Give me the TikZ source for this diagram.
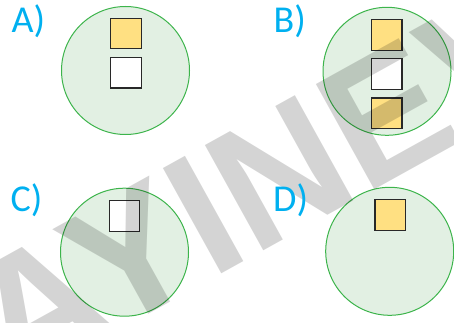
\documentclass[tikz,border=0pt]{standalone}
\usepackage{fontspec}
\setmainfont{Carlito}
\newfontfamily\markfont{Liberation Sans}
\usetikzlibrary{positioning}
\definecolor{labelblue}{RGB}{0,176,240}
\definecolor{circlegreen}{RGB}{60,180,75}
\definecolor{circlefill}{RGB}{226,240,227}
\definecolor{boxyellow}{RGB}{255,224,130}
\definecolor{boxline}{RGB}{40,40,40}

\begin{document}
\begin{tikzpicture}[x=1pt,y=-1pt,
  disc/.style={circle,draw=circlegreen,fill=circlefill,line width=1pt,minimum size=128pt,inner sep=0pt},
  cell/.style={draw=boxline,line width=1.2pt,minimum size=30.5pt,inner sep=0pt},
  tag/.style={anchor=base west,inner sep=0pt,text=labelblue,font=\fontsize{38}{38}\selectfont},
  wmark/.style={rotate=29,inner sep=0pt,text=black,text opacity=0.17,font=\markfont\bfseries\fontsize{175}{175}\selectfont},
  node distance=7.5pt]
\useasboundingbox (0,0) rectangle (454,323);
\clip (0,0) rectangle (454,323);

% Draw circles
\node[disc] (ca) at (125.5,70.5) {};
\node[disc] (cb) at (387,71.3) {};
\node[disc] (cc) at (124.5,252.2) {};
\node[disc] (cd) at (389.7,251.3) {};

% Draw boxes
\node[cell,fill=boxyellow] (a1) at (125.9,33.5) {};
\node[cell,fill=white,below=of a1] (a2) {};
\node[cell,fill=boxyellow] (b1) at (386.8,34.9) {};
\node[cell,fill=white,below=of b1] (b2) {};
\node[cell,fill=boxyellow,below=of b2] (b3) {};
\node[cell,fill=white] (c1) at (124.5,216) {};
\node[cell,fill=boxyellow] (d1) at (390.3,215) {};

% Watermark
\node[wmark,anchor=base east] (w1) at (211,280) {YAY};
\node[wmark,anchor=base west] (w2) at (211,280) {INEVİ};

% Labels
\node[tag] (la) at (11.5,32.5) {A)};
\node[tag] (lb) at (273.5,32.5) {B)};
\node[tag] (lc) at (10.5,211) {C)};
\node[tag] (ld) at (273,211) {D)};
\end{tikzpicture}
\end{document}
